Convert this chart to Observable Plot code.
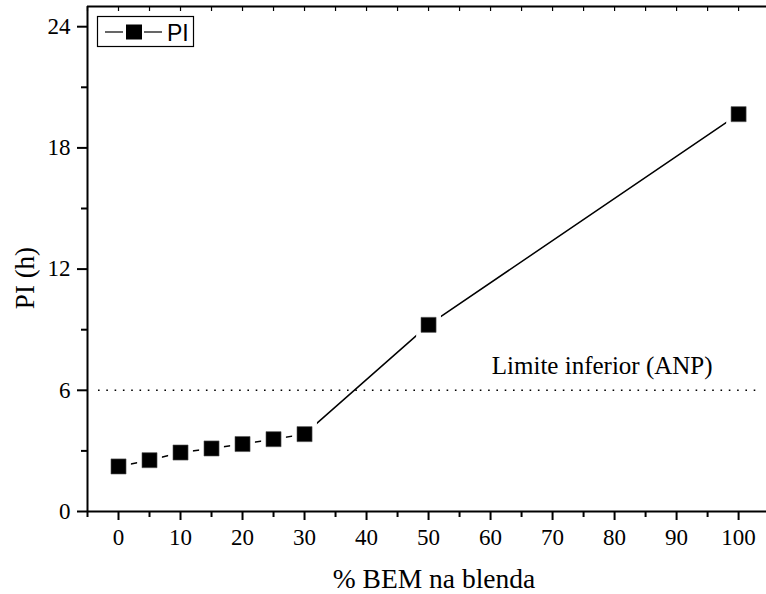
<!DOCTYPE html>
<html>
<head>
<meta charset="utf-8">
<script src="https://cdn.jsdelivr.net/npm/d3@7"></script>
<script src="https://cdn.jsdelivr.net/npm/@observablehq/plot@0.6"></script>
<style>
  html, body { margin: 0; padding: 0; background: #fff; }
  #chart { width: 766px; height: 594px; }
</style>
</head>
<body>
<div id="chart"></div>
<script>
// ---- data ----
const bemPercent = [0, 5, 10, 15, 20, 25, 30, 50, 100];
const piHours    = [2.23, 2.54, 2.92, 3.12, 3.34, 3.58, 3.83, 9.24, 19.67];
const xTicks      = [0, 10, 20, 30, 40, 50, 60, 70, 80, 90, 100];
const xMinorTicks = [-5, 5, 15, 25, 35, 45, 55, 65, 75, 85, 95];
const xTopTicks   = [-5, 0, 5, 10, 15, 20, 25, 30, 35, 40, 45, 50, 55, 60, 65, 70, 75, 80, 85, 90, 95, 100];
const yTicks      = [0, 6, 12, 18, 24];
const yMinorTicks = [3, 9, 15, 21];
const limitValue  = [6];
const limitLabel  = ["Limite inferior (ANP)"];
const seriesName  = "PI";
const xTitle = "% BEM na blenda";
const yTitle = "PI (h)";

const rows = bemPercent.map((x, i) => ({x, y: piHours[i]}));

const serif = "Liberation Serif";

const chart = Plot.plot({
  width: 766,
  height: 594,
  marginLeft: 87,
  marginRight: 0,
  marginTop: 6,
  marginBottom: 83,
  x: {domain: [-5, 104.5]},
  y: {domain: [0, 25]},
  style: {fontFamily: serif, fontSize: "23px", color: "black", background: "white", overflow: "visible"},
  marks: [
    // limit line
    Plot.ruleY(limitValue, {stroke: "black", strokeWidth: 1.6, strokeDasharray: "1.6,6.7", insetLeft: 11, insetRight: 9}),
    Plot.text(limitLabel, {x: 78, y: limitValue[0], dy: -24, fontSize: 25, fontFamily: serif, fill: "black"}),
    // series
    Plot.line(rows, {x: "x", y: "y", stroke: "black", strokeWidth: 1.5}),
    Plot.dot(rows, {x: "x", y: "y", symbol: "square", r: 14, fill: "white", stroke: null}),
    Plot.dot(rows, {x: "x", y: "y", symbol: "square", r: 8.5, fill: "black", stroke: "#555", strokeWidth: 0.6}),
    // frame lines
    Plot.ruleX([-5], {stroke: "black", strokeWidth: 2}),
    Plot.ruleY([0], {stroke: "black", strokeWidth: 2}),
    Plot.ruleY([25], {stroke: "black", strokeWidth: 2}),
    // axes
    Plot.axisX(xTicks, {anchor: "bottom", tickSize: 9, tickPadding: 8, strokeWidth: 2, label: null, fontSize: 23, fontFamily: serif}),
    Plot.axisX(xMinorTicks, {anchor: "bottom", tickSize: 6, strokeWidth: 2, text: null, label: null}),
    Plot.axisX(xTopTicks, {anchor: "top", tickSize: -4, strokeWidth: 1.2, text: null, label: null}),
    Plot.axisY(yTicks, {anchor: "left", tickSize: 10, tickPadding: 7, strokeWidth: 2, label: null, fontSize: 23, fontFamily: serif}),
    Plot.axisY(yMinorTicks, {anchor: "left", tickSize: 6, strokeWidth: 2, text: null, label: null}),
    // titles
    Plot.text([xTitle], {frameAnchor: "bottom", textAnchor: "middle", lineAnchor: "middle", dx: 7, dy: 68, fontSize: 27.5, fontFamily: serif, fill: "black"}),
    Plot.text([yTitle], {frameAnchor: "left", textAnchor: "middle", lineAnchor: "middle", rotate: -90, dx: -62, dy: 19, fontSize: 27, fontFamily: serif, fill: "black"})
  ]
});

document.getElementById("chart").appendChild(chart);

// ---- legend (inside frame, top-left) ----
const svg = d3.select(chart);
const lg = svg.append("g").attr("class", "legend").attr("text-anchor", "start");
lg.append("rect").attr("x", 97.5).attr("y", 16.5).attr("width", 96).attr("height", 30)
  .attr("fill", "white").attr("stroke", "black").attr("stroke-width", 1.2);
lg.append("line").attr("x1", 105).attr("x2", 123).attr("y1", 32).attr("y2", 32)
  .attr("stroke", "black").attr("stroke-width", 1.2);
lg.append("line").attr("x1", 144).attr("x2", 162).attr("y1", 32).attr("y2", 32)
  .attr("stroke", "black").attr("stroke-width", 1.2);
lg.append("rect").attr("x", 126).attr("y", 24.5).attr("width", 16).attr("height", 15)
  .attr("fill", "black");
lg.append("text").attr("x", 167).attr("y", 40.5).attr("text-anchor", "start").text(seriesName)
  .style("font-family", "'Liberation Sans', Arial, sans-serif")
  .style("font-size", "23px").attr("fill", "black");
</script>
</body>
</html>
